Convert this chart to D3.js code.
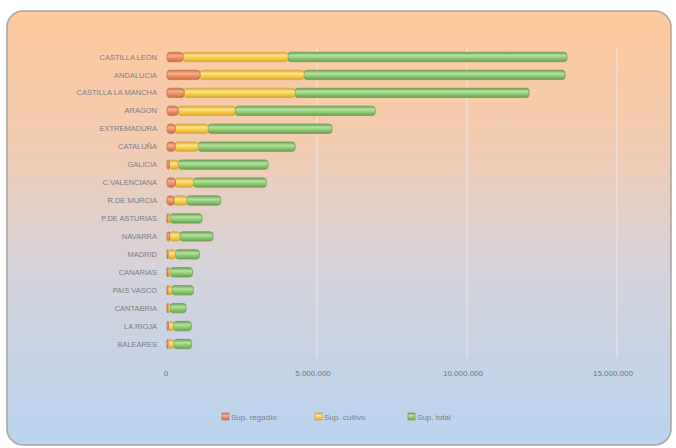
<!DOCTYPE html>
<html><head><meta charset="utf-8">
<script src="https://cdn.jsdelivr.net/npm/d3@7"></script>
<style>html,body{margin:0;padding:0;background:#fff;}svg{display:block;}</style>
</head><body>
<script>
const categories = ["CASTILLA LEON","ANDALUCIA","CASTILLA LA MANCHA","ARAGON","EXTREMADURA","CATALUÑA","GALICIA","C.VALENCIANA","R.DE MURCIA","P.DE ASTURIAS","NAVARRA","MADRID","CANARIAS","PAIS VASCO","CANTABRIA","LA RIOJA","BALEARES"];
const seriesNames = ["Sup. regadío","Sup. cultivo","Sup. total"];
const regadio = [530000,1100000,570000,370000,270000,270000,80000,280000,230000,5000,90000,30000,30000,10000,5000,50000,20000];
const cultivo = [3500000,3470000,3700000,1900000,1100000,770000,300000,600000,430000,100000,340000,250000,80000,150000,100000,160000,200000];
const total = [9300000,8700000,7800000,4670000,4130000,3230000,2990000,2430000,1130000,1060000,1100000,800000,740000,720000,530000,600000,600000];
const xTicks = [0,5000000,10000000,15000000];
const xTickLabels = ["0","5.000.000","10.000.000","15.000.000"];

const W=676,H=448;
const svg=d3.select("body").append("svg").attr("width",W).attr("height",H);
const defs=svg.append("defs");
const bg=defs.append("linearGradient").attr("id","bg").attr("x1",0).attr("y1",0).attr("x2",0).attr("y2",1);
bg.append("stop").attr("offset","0%").attr("stop-color","#fdc99d");
bg.append("stop").attr("offset","30%").attr("stop-color","#f2ccb0");
bg.append("stop").attr("offset","60%").attr("stop-color","#d5d3dc");
bg.append("stop").attr("offset","100%").attr("stop-color","#b9d3f0");
svg.append("rect").attr("x",7).attr("y",11).attr("width",664).attr("height",434).attr("rx",16)
  .attr("fill","url(#bg)").attr("stroke","#a9a49c").attr("stroke-width",1.5);

const colors=[
  {top:"#f7b08a",mid:"#ee8a5c",stroke:"#c0734f"},
  {top:"#fbe48a",mid:"#f6cd45",stroke:"#d7a63a"},
  {top:"#b3e29c",mid:"#8ccb70",stroke:"#6e9e55"}];
colors.forEach((c,i)=>{
  const g=defs.append("linearGradient").attr("id","g"+i).attr("x1",0).attr("y1",0).attr("x2",0).attr("y2",1);
  g.append("stop").attr("offset","0%").attr("stop-color",c.stroke);
  g.append("stop").attr("offset","35%").attr("stop-color",c.top);
  g.append("stop").attr("offset","65%").attr("stop-color",c.mid);
  g.append("stop").attr("offset","100%").attr("stop-color",c.stroke);
});

const x=d3.scaleLinear().domain([0,15000000]).range([167,617]);
const y=d3.scaleBand().domain(categories).range([48,353]).paddingInner(0.48).paddingOuter(0.24);

// gridlines
svg.append("g").selectAll("line").data(xTicks.slice(1)).join("line")
  .attr("x1",d=>x(d)).attr("x2",d=>x(d)).attr("y1",48).attr("y2",358)
  .attr("stroke","#e9e6e6").attr("stroke-width",1.5).attr("opacity",0.8);

const data=categories.map((c,i)=>({cat:c,regadio:regadio[i],cultivo:cultivo[i],total:total[i]}));
const stack=d3.stack().keys(["regadio","cultivo","total"])(data);

// draw in reverse so the rounded end of earlier segment isn't hidden
const gBars=svg.append("g");
[2,1,0].forEach(si=>{
  gBars.append("g").selectAll("rect").data(stack[si]).join("rect")
    .attr("x",d=>x(d[0]))
    .attr("y",d=>y(d.data.cat))
    .attr("width",d=>Math.max(1,x(d[1])-x(d[0])))
    .attr("height",y.bandwidth())
    .attr("rx",3)
    .attr("fill","url(#g"+si+")")
    .attr("stroke",colors[si].stroke).attr("stroke-width",0.8);
});

// y labels
svg.append("g").selectAll("text").data(categories).join("text")
  .attr("x",157).attr("y",d=>y(d)+y.bandwidth()/2).attr("dy","0.35em")
  .attr("text-anchor","end").attr("font-family","Liberation Sans, Arial, sans-serif")
  .attr("font-size",7.5).attr("fill","#7c7c84").text(d=>d);

// x tick labels
svg.append("g").selectAll("text").data(xTicks).join("text")
  .attr("x",(d,i)=>x(d)-(i===0?1:4)).attr("y",376).attr("text-anchor","middle")
  .attr("font-family","Liberation Sans, Arial, sans-serif").attr("font-size",8)
  .attr("fill","#6c7380").text((d,i)=>xTickLabels[i]);

// legend
const legX=[222,315,408];
const lg=svg.append("g");
seriesNames.forEach((n,i)=>{
  lg.append("rect").attr("x",legX[i]).attr("y",413).attr("width",7).attr("height",7)
    .attr("fill","url(#g"+i+")").attr("stroke",colors[i].stroke).attr("stroke-width",0.7);
  lg.append("text").attr("x",legX[i]+9).attr("y",417).attr("dy","0.35em")
    .attr("font-family","Liberation Sans, Arial, sans-serif").attr("font-size",8)
    .attr("fill","#7c7c84").text(n);
});
</script>
</body></html>
